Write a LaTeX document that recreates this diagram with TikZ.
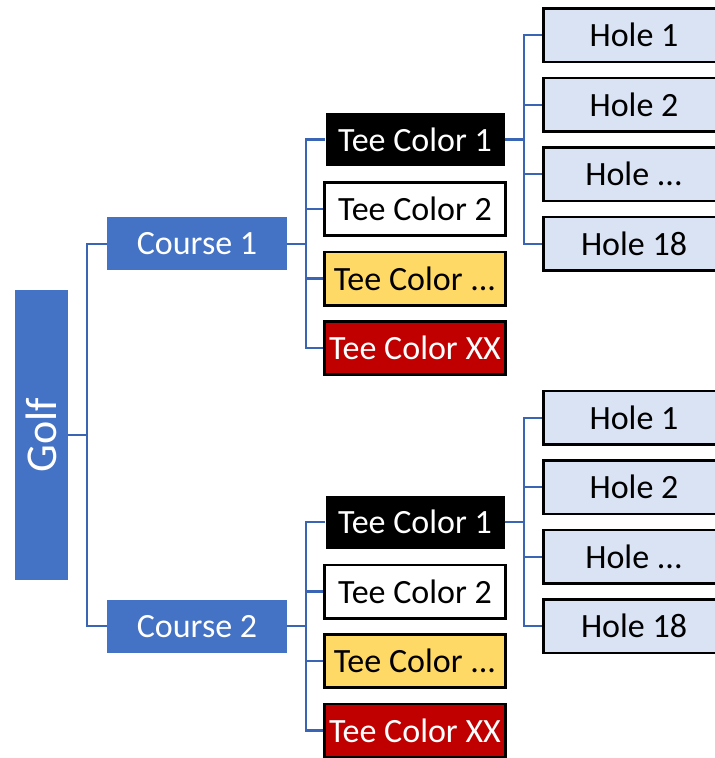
\documentclass[tikz,border=0pt]{standalone}
\usepackage{graphicx}
\usepackage{fontspec}
\setmainfont{Carlito}
\definecolor{courseblue}{HTML}{4472C4}
\definecolor{holeblue}{HTML}{DAE3F3}
\definecolor{teegold}{HTML}{FFD966}
\definecolor{teered}{HTML}{C00000}
\definecolor{linkblue}{HTML}{3A65B4}
\begin{document}
\begin{tikzpicture}[x=1pt, y=-1pt, grow'=right,
        level 1/.style={level distance=155.5pt, sibling distance=382.5pt},
        level 2/.style={level distance=218pt, sibling distance=69.5pt},
        level 3/.style={level distance=219pt, sibling distance=69.5pt},
        edge from parent/.style={draw=none},
        link/.style={draw=linkblue, line width=2.4pt},
        every node/.style={font=\fontsize{34}{40}\selectfont, inner sep=0pt},
        golfnode/.style={fill=courseblue, text=white, minimum width=53pt, minimum height=290pt},
        coursenode/.style={fill=courseblue, text=white, minimum width=180pt, minimum height=53pt},
        teenode/.style={draw=black, line width=2.6pt, minimum width=181.4pt, minimum height=53.4pt},
        blacktee/.style={fill=black, text=white, minimum width=179pt, minimum height=53pt},
        holenode/.style={teenode, fill=holeblue}
        ]
        %teenode/.style={draw,rectangle,rounded corners,inner sep=2pt}
      \useasboundingbox (0,0) rectangle (715,758);
        \node[golfnode] (golf) at (41.5,435) {\rotatebox{90}{\fontsize{44}{50}\selectfont Golf}}
          child {node[coursenode] (c1) {Course 1}
            child {node[blacktee] (c1t1) {Tee Color 1}
              child {node[holenode] (c1h1) {Hole 1}}
              child {node[holenode] (c1h2) {Hole 2}}
              child {node[holenode] (c1h3) {Hole ...}}
              child {node[holenode] (c1h4) {Hole 18}}
            }
            child {node[teenode] (c1t2) {Tee Color 2}}
            child {node[teenode, fill=teegold] (c1t3) {Tee Color ...}}
            child {node[teenode, fill=teered, text=white] (c1t4) {Tee Color XX}}
          }
          child {node[coursenode] (c2) {Course 2}
            child {node[blacktee] (c2t1) {Tee Color 1}
              child {node[holenode] (c2h1) {Hole 1}}
              child {node[holenode] (c2h2) {Hole 2}}
              child {node[holenode] (c2h3) {Hole ...}}
              child {node[holenode] (c2h4) {Hole 18}}
            }
            child {node[teenode] (c2t2) {Tee Color 2}}
            child {node[teenode, fill=teegold] (c2t3) {Tee Color ...}}
            child {node[teenode, fill=teered, text=white] (c2t4) {Tee Color XX}}
          };
        % connectors
        \foreach \c in {1,2} {
          \draw[link] (golf.east) -- +(19,0) |- (c\c.west);
          \foreach \t in {1,...,4} {
            \draw[link] (c\c.east) -- +(19,0) |- (c\c t\t.west);
            \draw[link] (c\c t1.east) -- +(19,0) |- (c\c h\t.west);
          }
        }
      \end{tikzpicture}
\end{document}
